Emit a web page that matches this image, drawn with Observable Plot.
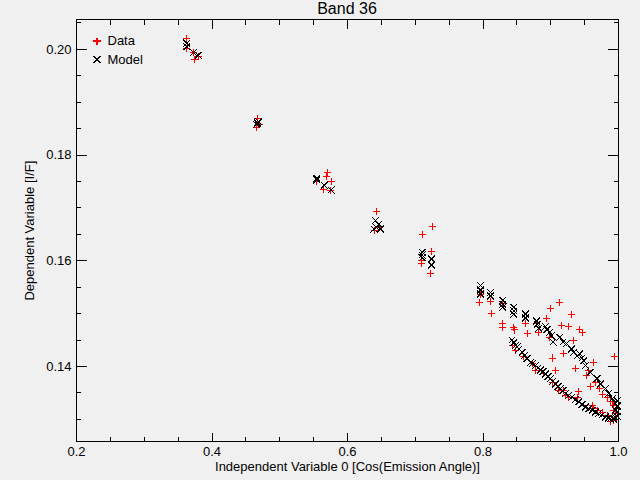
<!DOCTYPE html>
<html><head><meta charset="utf-8">
<script src="https://cdn.jsdelivr.net/npm/d3@7"></script>
<script src="https://cdn.jsdelivr.net/npm/@observablehq/plot@0.6"></script>
<style>
html,body{margin:0;padding:0;background:#f0f0f0;}
body{width:640px;height:480px;overflow:hidden;font-family:"Liberation Sans",sans-serif;}
#title{box-sizing:border-box;height:17px;padding-top:1px;line-height:16px;font-size:16px;margin-left:76px;width:542px;text-align:center;color:#000;}
#chart svg{display:block;shape-rendering:crispEdges;}
</style></head><body>
<div id="title">Band 36</div>
<div id="chart"></div>
<script>
// Data ("+") points: independent variable and observed I/F
const dataX = [0.3627,0.3617,0.3724,0.3798,0.3749,
  0.467,0.466,0.470,
  0.570,0.569,0.577,0.554,0.564,0.575,
  0.6425,0.640,0.6478,
  0.7260,0.7112,0.7245,0.7097,0.7097,0.7226,
  0.7953,0.7963,0.8111,0.8121,0.8292,0.8292,0.8292,0.8454,0.8469,0.8627,0.8652,0.8789,0.8823,0.8937,0.8996,
  0.9133,0.9305,0.9158,0.9257,0.9424,0.9472,0.8985,0.9339,0.9183,0.9030,0.9940,
  0.8431,0.8479,0.8593,0.8726,0.8774,0.8897,0.9021,0.9118,0.9217,0.9069,
  0.9364,0.9625,0.9526,0.9585,0.9659,0.9723,0.9758,0.9832,0.9881,0.9929,0.9929,0.9929,
  0.9413,0.9389,0.9611,0.9634,0.9758,0.9832,0.9881,0.9192,0.9265,0.9954,0.9906,0.9684,0.9560];
const dataY = [0.2020,0.2001,0.1994,0.1987,0.1980,
  0.1869,0.1853,0.1857,
  0.1767,0.1760,0.1750,0.1750,0.1735,0.1733,
  0.1694,0.1657,0.1663,
  0.1664,0.1650,0.1618,0.1600,0.1595,0.1575,
  0.1521,0.1537,0.1523,0.1501,0.1520,0.1481,0.1474,0.1474,0.1469,0.1481,0.1462,0.1481,0.1465,0.1490,0.1509,
  0.1521,0.1499,0.1477,0.1476,0.1470,0.1465,0.1454,0.1449,0.1425,0.1416,0.1419,
  0.1440,0.1430,0.1418,0.1405,0.1393,0.1386,0.1370,0.1355,0.1345,0.1393,
  0.1397,0.1407,0.1382,0.1363,0.1370,0.1358,0.1347,0.1342,0.1333,0.1326,0.1317,0.1298,
  0.1352,0.1342,0.1326,0.1320,0.1313,0.1308,0.1296,0.1355,0.1342,0.1311,0.1333,0.1317,0.1392];
// Model ("×") points
const modelX = [0.3627,0.3627,0.3724,0.3798,
  0.467,0.466,0.469,
  0.5545,0.5545,0.566,0.576,
  0.6414,0.6463,0.6429,0.6488,0.6389,
  0.7103,0.7103,0.7103,0.7240,0.7240,
  0.7963,0.7963,0.7963,0.8111,0.8111,0.8292,0.8292,0.8292,0.8454,0.8454,0.8454,0.8627,0.8627,0.8789,0.8799,0.8823,
  0.8922,0.8947,0.8985,0.9010,0.9035,0.9133,0.9183,0.9232,0.9305,0.9339,0.9389,0.9428,0.9463,0.9487,
  0.9512,0.9585,0.9684,0.9733,0.9807,0.9856,0.9906,0.9954,0.9954,0.9954,
  0.8431,0.8455,0.8479,0.8503,0.8528,0.8578,0.8615,0.8652,0.8701,0.8725,0.8774,0.8811,0.8848,0.8885,0.8922,0.8960,
  0.8996,0.9030,0.9069,0.9105,0.9143,0.9180,0.9217,0.9265,0.9316,0.9364,0.9413,0.9463,0.9512,0.9560,0.9611,0.9660,
  0.9708,0.9757,0.9807,0.9850,0.9881,0.9930,0.9985,0.9985,0.9985,0.9980];
const modelY = [0.2012,0.2005,0.1994,0.1989,
  0.1861,0.1858,0.1863,
  0.1756,0.1753,0.1743,0.1734,
  0.1676,0.1669,0.1663,0.1660,0.1660,
  0.1616,0.1611,0.1606,0.1603,0.1592,
  0.1553,0.1545,0.1537,0.1540,0.1533,0.1525,0.1518,0.1512,0.1512,0.1505,0.1499,0.1499,0.1492,0.1486,0.1480,0.1472,
  0.1476,0.1470,0.1465,0.1458,0.1446,0.1455,0.1446,0.1443,0.1433,0.1427,0.1420,0.1424,0.1416,0.1411,
  0.1402,0.1389,0.1377,0.1367,0.1358,0.1349,0.1339,0.1330,0.1317,0.1304,
  0.1450,0.1445,0.1440,0.1437,0.1433,0.1427,0.1421,0.1415,0.1408,0.1405,0.1402,0.1397,0.1393,0.1390,0.1386,0.1381,
  0.1377,0.1372,0.1367,0.1362,0.1358,0.1354,0.1349,0.1345,0.1342,0.1337,0.1333,0.1328,0.1323,0.1320,0.1317,0.1314,
  0.1311,0.1308,0.1304,0.1302,0.1301,0.1300,0.1305,0.1315,0.1325,0.1335];

const xMajorTicks = [0.2, 0.4, 0.6, 0.8, 1.0];
const xMinorTicks = [0.25,0.3,0.35,0.45,0.5,0.55,0.65,0.7,0.75,0.85,0.9,0.95];
const yMajorTicks = [0.14, 0.16, 0.18, 0.20];
const yMinorTicks = [0.13,0.135,0.145,0.15,0.155,0.165,0.17,0.175,0.185,0.19,0.195,0.205];
const xDomain = [0.2, 1.0];
const yDomain = [0.1258, 0.2056];
const xLabel = "Independent Variable 0 [Cos(Emission Angle)]";
const yLabel = "Dependent Variable [I/F]";
const legendLabels = ["Data", "Model"];

const dataPts = dataX.map((x, i) => ({x, y: dataY[i]}));
const modelPts = modelX.map((x, i) => ({x, y: modelY[i]}));
const blank = () => "";

const chart = Plot.plot({
  width: 640,
  height: 463,
  marginTop: 2.3,
  marginBottom: 39,
  marginLeft: 76,
  marginRight: 22,
  style: {background: "#f0f0f0", color: "black", fontSize: "13px", fontFamily: "'Liberation Sans', sans-serif"},
  x: {domain: xDomain},
  y: {domain: yDomain},
  marks: [
    Plot.frame({stroke: "black"}),
    Plot.axisX({ticks: xMajorTicks, tickSize: -8.4, tickPadding: 13.4, tickFormat: d3.format(".1f"),
      label: xLabel, labelAnchor: "center", labelOffset: 29, labelArrow: "none"}),
    Plot.axisX({ticks: xMinorTicks, tickSize: -4.2, tickFormat: blank, label: null}),
    Plot.axisX({anchor: "top", ticks: xMajorTicks, tickSize: -8.4, tickFormat: blank, label: null}),
    Plot.axisX({anchor: "top", ticks: xMinorTicks, tickSize: -4.2, tickFormat: blank, label: null}),
    Plot.axisY({ticks: yMajorTicks, tickSize: -10.8, tickPadding: 15.8, tickFormat: d3.format(".2f"),
      label: yLabel, labelAnchor: "center", labelOffset: 52, labelArrow: "none"}),
    Plot.axisY({ticks: yMinorTicks, tickSize: -5.4, tickFormat: blank, label: null}),
    Plot.axisY({anchor: "right", ticks: yMajorTicks, tickSize: -10.8, tickFormat: blank, label: null}),
    Plot.axisY({anchor: "right", ticks: yMinorTicks, tickSize: -5.4, tickFormat: blank, label: null}),
    Plot.dot(dataPts, {x: "x", y: "y", symbol: "plus", stroke: "#ff0000", r: 2.4, strokeWidth: 1}),
    Plot.dot(modelPts, {x: "x", y: "y", symbol: "times", stroke: "black", r: 3.2, strokeWidth: 1}),
    // legend
    Plot.dot([legendLabels[0]], {frameAnchor: "top-left", dx: 20.5, dy: 21.4, symbol: "plus", stroke: "#ff0000", r: 2.4}),
    Plot.dot([legendLabels[1]], {frameAnchor: "top-left", dx: 20.5, dy: 39.7, symbol: "times", stroke: "black", r: 3.2}),
    Plot.text([legendLabels[0]], {text: d => d, frameAnchor: "top-left", dx: 31, dy: 15.5, textAnchor: "start", fill: "black"}),
    Plot.text([legendLabels[1]], {text: d => d, frameAnchor: "top-left", dx: 31, dy: 34.5, textAnchor: "start", fill: "black"})
  ]
});
document.getElementById("chart").appendChild(chart);
</script>
</body></html>
